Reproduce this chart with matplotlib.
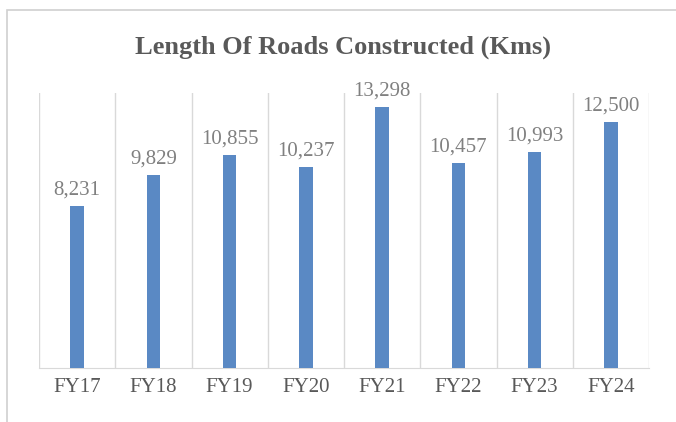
import matplotlib.pyplot as plt
from matplotlib.patches import Rectangle

# data
years = ['FY17', 'FY18', 'FY19', 'FY20', 'FY21', 'FY22', 'FY23', 'FY24']
roads_km = [8231, 9829, 10855, 10237, 13298, 10457, 10993, 12500]

W, H = 676, 422
fig = plt.figure(figsize=(W / 100, H / 100), dpi=100)

# chart border (only top and left visible in the crop)
fig.add_artist(Rectangle((7 / W, -0.1), 1.2, (H - 10) / H + 0.1,
                         transform=fig.transFigure, fill=False,
                         edgecolor='#d0d0d0', linewidth=1.2))

ax = fig.add_axes([39 / W, (H - 368) / H, 610 / W, 275 / H])

x = list(range(len(years)))
ax.bar(x, roads_km, width=0.18, color='#5a89c4', zorder=3)

for xi, v in zip(x, roads_km):
    ax.text(xi, v + 330, f'{v:,}', ha='center', va='bottom',
            fontsize=15, color='#808080', family='Liberation Serif')

ax.set_xlim(-0.5, len(years) - 0.5)
ax.set_ylim(0, 14000)

# vertical separators between categories
for b in [i - 0.5 for i in range(len(years) + 1)]:
    ax.axvline(b, color='#d9d9d9', linewidth=1, zorder=1)

ax.set_xticks(x)
ax.set_xticklabels(years, family='Liberation Serif', fontsize=15,
                   color='#595959')
ax.tick_params(axis='x', length=0, pad=7)
ax.set_yticks([])
for side in ['top', 'left', 'right']:
    ax.spines[side].set_visible(False)
ax.spines['bottom'].set_color('#d9d9d9')

fig.text(343 / W, 1 - 47 / H, 'Length Of Roads Constructed (Kms)',
         ha='center', va='center', fontsize=19, fontweight='bold',
         color='#595959', family='Liberation Serif')

fig.savefig('out.png', dpi=100)
